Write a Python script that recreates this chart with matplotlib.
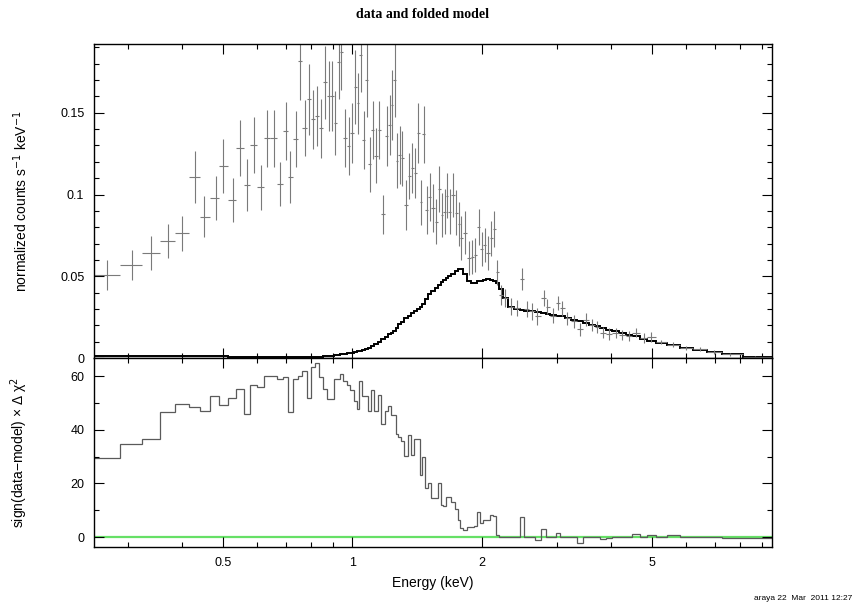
import numpy as np
import matplotlib
matplotlib.use("Agg")
import matplotlib.pyplot as plt
from matplotlib.ticker import FixedLocator, NullFormatter, MultipleLocator

plt.rcParams['font.family'] = ['Liberation Sans', 'DejaVu Sans']

# channel energies (keV), folded spectrum, 1-sigma errors
energy = [0.2686, 0.3072, 0.3396, 0.3727, 0.4018, 0.4302, 0.4522, 0.4798, 0.5007, 0.5256,
          0.5478, 0.5678, 0.5883, 0.6124, 0.6324, 0.6552, 0.6766, 0.7002, 0.7166, 0.7389,
          0.7562, 0.7738, 0.7907, 0.8081, 0.8273, 0.8466, 0.8650, 0.8806, 0.8969, 0.9128,
          0.9291, 0.9426, 0.9610, 0.9803, 0.9984, 1.016, 1.030, 1.047, 1.063, 1.079,
          1.097, 1.116, 1.136, 1.153, 1.181, 1.204, 1.223, 1.240, 1.254, 1.271,
          1.289, 1.308, 1.335, 1.356, 1.378, 1.400, 1.423, 1.446, 1.467, 1.494,
          1.515, 1.543, 1.568, 1.596, 1.619, 1.642, 1.663, 1.687, 1.718, 1.748,
          1.770, 1.796, 1.835, 1.868, 1.903, 1.936, 1.971, 2.000, 2.035, 2.069,
          2.110, 2.136, 2.176, 2.215, 2.263, 2.346, 2.423, 2.489, 2.547, 2.626,
          2.698, 2.795, 2.847, 2.940, 3.013, 3.085, 3.170, 3.284, 3.391, 3.497,
          3.625, 3.724, 3.846, 3.963, 4.108, 4.259, 4.413, 4.574, 4.783, 4.958,
          5.25, 5.6, 6.0, 6.45, 6.95, 7.6, 8.7]

counts = [0.0509, 0.0568, 0.0641, 0.0714, 0.0763, 0.1105, 0.0864, 0.0980, 0.1174, 0.0966,
          0.1282, 0.1058, 0.1302, 0.1044, 0.1343, 0.1343, 0.1062, 0.1390, 0.1105, 0.1337,
          0.1817, 0.1408, 0.1581, 0.1459, 0.1479, 0.1404, 0.1685, 0.1603, 0.1603, 0.1438,
          0.1811, 0.1872, 0.1343, 0.1296, 0.1377, 0.1658, 0.1557, 0.1852, 0.1333, 0.1699,
          0.1186, 0.1394, 0.1236, 0.1394, 0.0880, 0.1357, 0.1425, 0.1546, 0.1699, 0.1206,
          0.1241, 0.1221, 0.0936, 0.1113, 0.1160, 0.1133, 0.1374, 0.0952, 0.1367, 0.0905,
          0.0987, 0.0916, 0.0834, 0.1033, 0.0875, 0.0895, 0.0993, 0.0895, 0.0997, 0.0889,
          0.0820, 0.0733, 0.0767, 0.0611, 0.0617, 0.0631, 0.0803, 0.0665, 0.0692, 0.0641,
          0.0731, 0.0787, 0.0523, 0.0387, 0.0366, 0.0315, 0.0305, 0.0484, 0.0299, 0.0285,
          0.0254, 0.0366, 0.0315, 0.0258, 0.0336, 0.0305, 0.0244, 0.0224, 0.0177, 0.0234,
          0.0203, 0.0189, 0.0156, 0.0148, 0.0153, 0.0142, 0.0136, 0.0156, 0.0122, 0.0128,
          0.0098, 0.0080, 0.0060, 0.0055, 0.0036, 0.0023, 0.0008]

errors = [0.0092, 0.0093, 0.0104, 0.0104, 0.0107, 0.0159, 0.0125, 0.0134, 0.0165, 0.0134,
          0.0171, 0.0157, 0.0171, 0.0137, 0.0175, 0.0175, 0.0134, 0.0177, 0.0159, 0.0171,
          0.0238, 0.0171, 0.0220, 0.0183, 0.0183, 0.0183, 0.0226, 0.0214, 0.0214, 0.0195,
          0.0226, 0.0230, 0.0177, 0.0177, 0.0183, 0.0226, 0.0189, 0.0226, 0.0177, 0.0226,
          0.0168, 0.0177, 0.0168, 0.0177, 0.0119, 0.0183, 0.0183, 0.0215, 0.0226, 0.0168,
          0.0177, 0.0168, 0.0153, 0.0140, 0.0153, 0.0153, 0.0183, 0.0137, 0.0177, 0.0147,
          0.0147, 0.0147, 0.0137, 0.0140, 0.0137, 0.0137, 0.0137, 0.0137, 0.0137, 0.0137,
          0.0137, 0.0134, 0.0130, 0.0104, 0.0104, 0.0104, 0.0110, 0.0104, 0.0104, 0.0104,
          0.0110, 0.0110, 0.0076, 0.0060, 0.0055, 0.0050, 0.0050, 0.0067, 0.0050, 0.0050,
          0.0050, 0.0049, 0.0045, 0.0045, 0.0045, 0.0045, 0.0040, 0.0040, 0.0040, 0.0040,
          0.0035, 0.0035, 0.0035, 0.0035, 0.0030, 0.0030, 0.0030, 0.0030, 0.0030, 0.0030,
          0.0015, 0.0015, 0.0012, 0.0012, 0.0010, 0.0008, 0.0005]

model = [0.0010, 0.0010, 0.0010, 0.0010, 0.0010, 0.0010, 0.0010, 0.0010, 0.0010, 0.0008,
         0.0008, 0.0008, 0.0008, 0.0008, 0.0008, 0.0008, 0.0008, 0.0008, 0.0008, 0.0008,
         0.0008, 0.0008, 0.0008, 0.0008, 0.0008, 0.0008, 0.0010, 0.0012, 0.0014, 0.0017,
         0.0020, 0.0022, 0.0025, 0.0028, 0.0030, 0.0035, 0.0040, 0.0045, 0.0050, 0.0057,
         0.0064, 0.0072, 0.0085, 0.0097, 0.0115, 0.0128, 0.0145, 0.0155, 0.0168, 0.0185,
         0.0205, 0.0222, 0.0242, 0.0258, 0.0275, 0.0290, 0.0300, 0.0310, 0.0330, 0.0360,
         0.0390, 0.0412, 0.0428, 0.0445, 0.0462, 0.0476, 0.0488, 0.0500, 0.0515, 0.0530,
         0.0542, 0.0545, 0.0515, 0.0468, 0.0458, 0.0460, 0.0468, 0.0474, 0.0480, 0.0482,
         0.0478, 0.0470, 0.0458, 0.0420, 0.0370, 0.0315, 0.0300, 0.0295, 0.0290, 0.0285,
         0.0280, 0.0274, 0.0270, 0.0264, 0.0259, 0.0254, 0.0246, 0.0235, 0.0226, 0.0216,
         0.0203, 0.0193, 0.0183, 0.0173, 0.0163, 0.0152, 0.0143, 0.0132, 0.0118, 0.0105,
         0.0092, 0.0078, 0.0062, 0.0052, 0.0037, 0.0022, 0.0008]

# sign(data-model) x delta chi^2
delchi = [29.6, 34.6, 36.7, 46.7, 49.6, 48.3, 47.0, 52.5, 49.2, 51.7,
          55.0, 45.7, 56.6, 56.0, 60.0, 60.0, 58.8, 59.5, 46.5, 58.7,
          60.0, 61.8, 51.9, 63.4, 64.7, 59.7, 55.0, 51.3, 51.3, 59.0,
          59.0, 60.7, 58.0, 56.5, 54.9, 50.6, 47.8, 58.2, 52.4, 52.4,
          46.8, 54.9, 46.8, 52.8, 42.1, 46.8, 48.7, 45.4, 45.4, 38.4,
          37.2, 35.9, 30.1, 37.9, 30.7, 36.7, 36.7, 23.3, 30.0, 18.3,
          20.2, 14.6, 14.6, 20.0, 12.0, 11.6, 15.0, 15.0, 13.2, 10.4,
          6.4, 3.3, 2.7, 3.9, 3.9, 4.3, 9.5, 5.2, 6.4, 6.4,
          8.3, 7.9, 0.9, -0.1, 0.2, 0.0, 0.0, 7.4, 0.2, 0.0,
          -1.0, 3.1, 0.0, 0.0, 1.7, 0.0, 0.0, 0.0, -2.2, 0.0,
          0.0, 0.0, -0.6, -0.5, 0.0, 0.0, 0.0, 1.3, 0.0, 0.7,
          0.2, 0.8, 0.2, 0.2, 0.2, -0.3, -0.3]

e_lo, e_hi = 0.25, 9.5

E = np.array(energy)
mid = np.sqrt(E[:-1] * E[1:])
edges = np.concatenate([[e_lo], mid, [e_hi]])
xerr = np.vstack([E - edges[:-1], edges[1:] - E])

fig = plt.figure(figsize=(8.58, 6.12), dpi=100)
ax1 = fig.add_axes([0.1096, 0.415, 0.790, 0.513])
ax2 = fig.add_axes([0.1096, 0.1062, 0.790, 0.3088], sharex=ax1)

ax1.errorbar(E, counts, yerr=errors, xerr=xerr, fmt='none',
             ecolor='#7a7a7a', elinewidth=0.8, capsize=0)
ax1.stairs(model, edges, color='black', linewidth=1.4, baseline=None)

ax2.stairs(delchi, edges, color='#5a5a5a', linewidth=0.9, baseline=None)
ax2.axhline(0, color='#66e066', linewidth=1.6, zorder=0)

ax1.set_xscale('log')
ax1.set_xlim(e_lo, e_hi)
ax1.set_ylim(0, 0.192)
ax2.set_ylim(-3.7, 66.7)

major = [0.5, 1, 2, 5]
minor = [0.3, 0.4, 0.6, 0.7, 0.8, 0.9, 3, 4, 6, 7, 8, 9]
for ax in (ax1, ax2):
    ax.xaxis.set_major_locator(FixedLocator(major))
    ax.xaxis.set_minor_locator(FixedLocator(minor))
    ax.xaxis.set_minor_formatter(NullFormatter())
    ax.tick_params(which='both', direction='in', top=True, right=True,
                   labelsize=9, pad=7)
    ax.tick_params(which='major', length=7, width=0.8)
    ax.tick_params(which='minor', length=3.5, width=0.8)
    for s in ax.spines.values():
        s.set_linewidth(1.0)

ax1.tick_params(labelbottom=False)
ax1.yaxis.set_major_locator(FixedLocator([0, 0.05, 0.1, 0.15]))
ax1.yaxis.set_major_formatter(plt.FuncFormatter(lambda v, p: '0' if v == 0 else ('%g' % v)))
ax1.yaxis.set_minor_locator(MultipleLocator(0.01))
ax2.yaxis.set_major_locator(FixedLocator([0, 20, 40, 60]))
ax2.yaxis.set_minor_locator(MultipleLocator(10))
ax2.xaxis.set_major_formatter(plt.FuncFormatter(lambda v, p: '%g' % v))

ax1.set_ylabel('normalized counts s$^{-1}$ keV$^{-1}$', fontsize=10)
ax2.set_ylabel('sign(data\u2212model) \u00d7 \u0394 \u03c7$^2$', fontsize=10)
ax1.yaxis.set_label_coords(-0.095, 0.5)
ax2.yaxis.set_label_coords(-0.095, 0.5)
ax2.set_xlabel('Energy (keV)', fontsize=10, labelpad=5)

fig.text(0.493, 0.977, 'data and folded model', ha='center', va='center',
         fontsize=10, fontweight='bold', family='Liberation Serif')
fig.text(0.993, 0.022, 'araya 22  Mar  2011 12:27', ha='right', va='center',
         fontsize=6)

fig.savefig('out.png', dpi=100)
